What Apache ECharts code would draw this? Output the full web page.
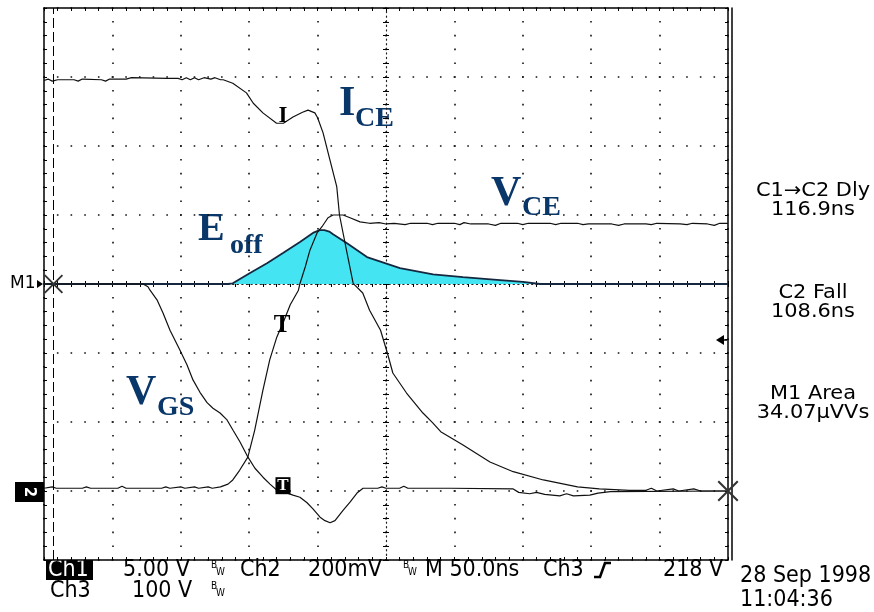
<!DOCTYPE html>
<html>
<head>
<meta charset="utf-8">
<script src="https://cdn.jsdelivr.net/npm/echarts@6/dist/echarts.min.js"></script>
<style>
  html, body { margin: 0; padding: 0; background: #fff; }
  #scope { width: 874px; height: 612px; }
</style>
</head>
<body>
<div id="scope"></div>
<script>
// Time is in ns relative to the screen centre (50 ns/div); amplitude is in screen divisions.
const timeRange = [-250, 250];
const timeStep = 50;
const divRange = [-4, 4];

// Ch2: collector current
const iceTrace = [
  [-250, 2.95], [-247, 2.97], [-244, 2.94], [-240, 2.96], [-228, 2.96], [-225, 2.94],
  [-222, 2.97], [-208, 2.96], [-205, 2.94], [-202, 2.97], [-190, 2.97], [-186, 2.99],
  [-160, 2.98], [-152, 2.98], [-149, 2.96], [-146, 2.99], [-143, 2.96], [-140, 2.99],
  [-137, 2.96], [-133, 2.99], [-128, 2.97], [-125, 2.99], [-121, 2.96], [-119, 2.96],
  [-112, 2.91], [-102, 2.77], [-97, 2.62], [-90, 2.48], [-80, 2.33], [-75, 2.33],
  [-68, 2.42], [-61, 2.49], [-57, 2.52], [-52, 2.48], [-50, 2.41], [-46, 2.19],
  [-41, 1.80], [-36, 1.41], [-34, 1.00], [-28.5, 0.45], [-24, 0.01], [-17, -0.13],
  [-12, -0.38], [-4, -0.67], [1, -1.00], [5, -1.29], [15, -1.58], [27, -1.87],
  [34, -2.01], [40, -2.14], [56, -2.33], [76, -2.58], [93, -2.72], [115, -2.84],
  [140, -2.94], [156, -2.97], [178, -2.99], [190, -2.99], [194, -2.96], [198, -3.00],
  [210, -2.97], [214, -3.00], [225, -2.97], [230, -3.00], [250, -3.00]
];

// Ch3: collector-emitter voltage
const vceTrace = [
  [-250, -2.96], [-244, -2.94], [-241, -2.96], [-222, -2.96], [-219, -2.94], [-216, -2.96],
  [-196, -2.96], [-193, -2.93], [-190, -2.96], [-164, -2.96], [-161, -2.94], [-158, -2.96],
  [-150, -2.94], [-147, -2.96], [-140, -2.94], [-137, -2.96], [-130, -2.94], [-127, -2.96],
  [-121, -2.94], [-115.5, -2.90], [-112, -2.84], [-107, -2.70], [-101, -2.51], [-96, -2.12],
  [-90, -1.54], [-85, -1.10], [-80, -0.78], [-75, -0.55], [-70, -0.30], [-64, -0.09],
  [-63, 0.00], [-59, 0.25], [-55.6, 0.49], [-50.4, 0.74], [-46.8, 0.83], [-42.4, 0.96],
  [-38.7, 1.00], [-31.4, 1.00], [-26.3, 0.96], [-19, 0.90], [-12, 0.88], [-5, 0.89],
  [0, 0.87], [6, 0.88], [14, 0.86], [18, 0.88], [30, 0.88], [34, 0.86], [38, 0.88],
  [50, 0.88], [54, 0.86], [57, 0.89], [62, 0.87], [75, 0.87], [80, 0.85], [84, 0.88],
  [96, 0.88], [100, 0.86], [104, 0.88], [120, 0.88], [124, 0.86], [128, 0.88], [140, 0.88],
  [144, 0.86], [148, 0.87], [165, 0.87], [170, 0.85], [174, 0.87], [190, 0.87], [194, 0.86],
  [198, 0.88], [215, 0.87], [220, 0.86], [224, 0.88], [235, 0.87], [240, 0.85], [244, 0.88],
  [250, 0.88]
];

// Ch1: gate voltage
const vgsTrace = [
  [-250, 0.00], [-177.6, 0.00], [-174, -0.04], [-172.5, -0.09], [-167.4, -0.23], [-163, -0.42],
  [-157.9, -0.67], [-150.6, -0.96], [-145.5, -1.17], [-141.1, -1.39], [-136, -1.57], [-130.8, -1.72],
  [-126.5, -1.80], [-121.3, -1.87], [-116.2, -1.97], [-111.8, -2.12], [-106.7, -2.29], [-100.9, -2.51],
  [-95.8, -2.67], [-89.9, -2.80], [-84.8, -2.90], [-79.7, -2.99], [-75.3, -3.01], [-68, -3.06],
  [-62.9, -3.09], [-57.7, -3.17], [-53.4, -3.26], [-48.2, -3.38], [-44.6, -3.43], [-40.9, -3.46],
  [-37.3, -3.43], [-31.4, -3.28], [-26.3, -3.16], [-21.2, -3.03], [-16.8, -2.96], [-6, -2.96],
  [-3, -2.94], [0, -2.96], [10, -2.96], [13, -2.93], [16, -2.96], [47, -2.96], [93, -2.97],
  [97, -3.02], [105, -3.04], [110, -3.02], [116, -3.05], [127, -3.07], [132, -3.04],
  [137, -3.07], [149, -3.06], [155, -3.03], [164, -3.01], [250, -3.00]
];

// M1: switching loss (Ch2 x Ch3), the shaded turn-off energy
const m1Trace = [
  [-250, 0.00], [-115.5, 0.00], [-112, 0.01], [-99.4, 0.16], [-87, 0.30], [-75.3, 0.45],
  [-62.9, 0.61], [-53.4, 0.74], [-48.5, 0.78], [-45, 0.78], [-41.5, 0.76], [-38.7, 0.72],
  [-28.5, 0.59], [-13.9, 0.39], [10.2, 0.23], [34.4, 0.14], [56.3, 0.10], [81.1, 0.06],
  [100.1, 0.03], [112.6, 0.00], [250, 0.00]
];

const cursorTime = -243;
const markerTime = -75.3;
const groundLevel = -3;

const readouts = [
  ['C1\u2192C2 Dly', '116.9ns'],
  ['C2 Fall', '108.6ns'],
  ['M1 Area', '34.07\u00b5VVs']
];

const traceLabels = [
  { main: 'I', sub: 'CE' },
  { main: 'E', sub: 'off' },
  { main: 'V', sub: 'CE' },
  { main: 'V', sub: 'GS' }
];

const settingsRow1 = ['5.00 V', 'Ch2', '200mV', 'M 50.0ns', 'Ch3', '218 V'];
const settingsRow2 = ['Ch3', '100 V'];
const stamp = ['28 Sep 1998', '11:04:36'];

// value of a trace at time t (linear between samples) - used to pin markers on traces
function valueAt(trace, t) {
  for (let i = 1; i < trace.length; i++) {
    if (trace[i][0] >= t) {
      const a = trace[i - 1], b = trace[i];
      return a[1] + (b[1] - a[1]) * (t - a[0]) / (b[0] - a[0]);
    }
  }
  return trace[trace.length - 1][1];
}

const INK = '#111';
const NAVY = '#0a3769';
const SERIF = '"Liberation Serif","Times New Roman",serif';
const SANS = '"DejaVu Sans",Verdana,sans-serif';
const NARROW = '"DejaVu Sans Condensed","Liberation Sans Narrow","Arial Narrow",sans-serif';

function xAxisDef(extra) {
  return Object.assign({
    type: 'value', min: timeRange[0], max: timeRange[1], interval: timeStep,
    axisLabel: { show: false },
    splitLine: { show: false },
    axisTick: { show: true, inside: true, length: 3, lineStyle: { color: '#000', width: 1 } },
    minorTick: { show: true, splitNumber: 5, length: 3, lineStyle: { color: '#000', width: 1 } },
    axisLine: { show: true, onZero: false, lineStyle: { color: '#000', width: 1.5 } }
  }, extra);
}
function yAxisDef(extra) {
  return Object.assign({
    type: 'value', min: divRange[0], max: divRange[1], interval: 1,
    axisLabel: { show: false },
    splitLine: { show: false },
    axisTick: { show: true, inside: true, length: 3, lineStyle: { color: '#000', width: 1 } },
    minorTick: { show: true, splitNumber: 5, length: 3, lineStyle: { color: '#000', width: 1 } },
    axisLine: { show: true, onZero: false, lineStyle: { color: '#000', width: 1.5 } }
  }, extra);
}

const centreLine = { color: '#222', width: 1.2, type: [1.2, 3.4] };
const gridDots = { color: '#111', width: 1.6 };

const xAxes = [
  xAxisDef({ position: 'bottom',
    splitLine: { show: true, lineStyle: Object.assign({ type: [1.6, 12.2], dashOffset: 0.8 }, gridDots) } }),
  xAxisDef({ position: 'top' }),
  xAxisDef({ position: 'bottom', axisLine: { show: true, onZero: true, onZeroAxisIndex: 0, lineStyle: centreLine } }),
  xAxisDef({ position: 'top', axisLine: { show: false, onZero: true, onZeroAxisIndex: 0 } })
];
const yAxes = [
  yAxisDef({ position: 'left',
    splitLine: { show: true, lineStyle: Object.assign({ type: [1.6, 12.08], dashOffset: 0.8 }, gridDots) } }),
  yAxisDef({ position: 'right' }),
  yAxisDef({ position: 'left', axisLine: { show: true, onZero: true, onZeroAxisIndex: 0, lineStyle: centreLine } }),
  yAxisDef({ position: 'right', axisLine: { show: false, onZero: true, onZeroAxisIndex: 0 } }),
  yAxisDef({ position: 'right', offset: 4, axisTick: { show: false }, minorTick: { show: false } })
];

const crossPath = 'path://M0,0.7 L0.7,0 L10,9.3 L9.3,10 Z M9.3,0 L10,0.7 L0.7,10 L0,9.3 Z M4.3,4.3 H5.7 V5.7 H4.3 Z';

function traceSeries(name, data, extra) {
  return Object.assign({
    name, type: 'line', data, showSymbol: false, symbol: 'none', silent: true,
    lineStyle: { color: INK, width: 1.2 }, z: 3
  }, extra);
}

const series = [
  traceSeries('M1', m1Trace, {
    lineStyle: { color: '#16283f', width: 1.8 },
    areaStyle: { color: '#44e4f3', opacity: 1, origin: 0 },
    z: 2,
    markLine: {
      silent: true, symbol: ['none', 'none'], label: { show: false },
      lineStyle: { color: '#000', width: 1, type: [10, 4] },
      data: [{ xAxis: cursorTime }]
    },
    markPoint: {
      silent: true,
      data: [
        { coord: [cursorTime, 0], symbol: crossPath, symbolSize: 19, itemStyle: { color: '#333' }, label: { show: false } },
        { coord: [timeRange[1], groundLevel], symbol: crossPath, symbolSize: 21, itemStyle: { color: '#333' }, label: { show: false } }
      ]
    }
  }),
  traceSeries('Ch1', vgsTrace, {
    markPoint: {
      silent: true,
      data: [{
        coord: [markerTime, valueAt(vgsTrace, markerTime)], symbol: 'rect', symbolSize: [15, 17],
        symbolOffset: [0, -6], itemStyle: { color: '#000' },
        label: { show: true, formatter: 'T', color: '#fff', fontFamily: SERIF, fontWeight: 'bold', fontSize: 17, position: 'inside' }
      }]
    }
  }),
  traceSeries('Ch3', vceTrace, {
    markPoint: {
      silent: true,
      data: [{
        coord: [markerTime, valueAt(vceTrace, markerTime)], symbol: 'rect', symbolSize: 1,
        itemStyle: { color: 'rgba(0,0,0,0)' },
        label: { show: true, formatter: 'T', color: '#000', fontFamily: SERIF, fontWeight: 'bold', fontSize: 25, position: 'inside', offset: [-1, 3] }
      }]
    }
  }),
  traceSeries('Ch2', iceTrace, {
    markPoint: {
      silent: true,
      data: [{
        coord: [markerTime, valueAt(iceTrace, markerTime)], symbol: 'rect', symbolSize: 1,
        itemStyle: { color: 'rgba(0,0,0,0)' },
        label: { show: true, formatter: 'I', color: '#000', fontFamily: SERIF, fontWeight: 'bold', fontSize: 23, position: 'top', distance: -5 }
      }]
    }
  })
];

// ---- screen furniture: annotations, readouts and status line ----
const graphics = [];
function txt(x, y, text, font, size, opts, elOpts) {
  graphics.push(Object.assign({
    type: 'text', x, y, silent: true,
    style: Object.assign({ text, fontFamily: font, fontSize: size, fill: '#000', verticalAlign: 'middle', align: 'left' }, opts || {})
  }, elOpts || {}));
}

// trace names: main letter + subscript, placed by baseline
const labelSpots = [
  { x: 339, base: 118, subX: 355, subBase: 128, size: 42 },
  { x: 198, base: 243, subX: 230, subBase: 255, size: 40 },
  { x: 491, base: 208, subX: 522, subBase: 217, size: 42 },
  { x: 126, base: 407, subX: 157, subBase: 417, size: 42 }
];
traceLabels.forEach((l, i) => {
  const p = labelSpots[i];
  txt(p.x, p.base - 0.33 * p.size, l.main, SERIF, p.size, { fill: NAVY, fontWeight: 'bold' });
  txt(p.subX, p.subBase - 0.33 * 28, l.sub, SERIF, 28, { fill: NAVY, fontWeight: 'bold' });
});

// measurement readouts
const readoutY = [191, 293, 394];
readouts.forEach((r, i) => {
  txt(813, readoutY[i], r[0], SANS, 19, { align: 'center' }, { scaleX: 1.1 });
  txt(813, readoutY[i] + 19, r[1], SANS, 19, { align: 'center' }, { scaleX: 1.1 });
});

// left-edge reference markers
txt(10, 284, 'M1', SANS, 17);
graphics.push({ type: 'polygon', silent: true, shape: { points: [[37, 280], [43, 284], [37, 288]] }, style: { fill: '#000' } });
graphics.push({ type: 'rect', silent: true, shape: { x: 15, y: 482, width: 29, height: 20 }, style: { fill: '#000' } });
graphics.push({ type: 'text', silent: true, x: 29, y: 492, rotation: -Math.PI / 2,
  style: { text: '2', fontFamily: SANS, fontSize: 15, fontWeight: 'bold', fill: '#fff', align: 'center', verticalAlign: 'middle' } });
// trigger level marker on the right edge
graphics.push({ type: 'polygon', silent: true, shape: { points: [[716, 340], [724, 335], [724, 345]] }, style: { fill: '#000' } });
graphics.push({ type: 'line', silent: true, shape: { x1: 722, y1: 340, x2: 727, y2: 340 }, style: { stroke: '#000', lineWidth: 1.5 } });

// status line
graphics.push({ type: 'rect', silent: true, shape: { x: 46, y: 560, width: 47, height: 20 }, style: { fill: '#000' } });
txt(48, 570, 'Ch1', NARROW, 23, { fill: '#fff' });
const row1X = [123, 240, 308, 425, 543, 663];
settingsRow1.forEach((s, i) => txt(row1X[i], 570, s, NARROW, 23));
const row2X = [50, 132];
settingsRow2.forEach((s, i) => txt(row2X[i], 591, s, NARROW, 23));
function bwMark(x, y) {
  txt(x, y - 3, 'B', NARROW, 10);
  txt(x + 5, y + 4, 'W', NARROW, 10);
}
bwMark(211, 568); bwMark(403, 568); bwMark(211, 589);
// rising-edge trigger glyph
graphics.push({ type: 'polyline', silent: true, shape: { points: [[594, 577], [600, 577], [605, 563], [611, 563]] },
  style: { stroke: '#000', lineWidth: 2.6, fill: null } });
txt(740, 576, stamp[0], NARROW, 23);
txt(740, 600, stamp[1], NARROW, 23);

const chart = echarts.init(document.getElementById('scope'), null, { renderer: 'canvas' });
chart.setOption({
  animation: false,
  backgroundColor: '#fff',
  grid: { left: 44, top: 8, right: 146, bottom: 52, containLabel: false },
  xAxis: xAxes,
  yAxis: yAxes,
  series,
  graphic: graphics
});
</script>
</body>
</html>
